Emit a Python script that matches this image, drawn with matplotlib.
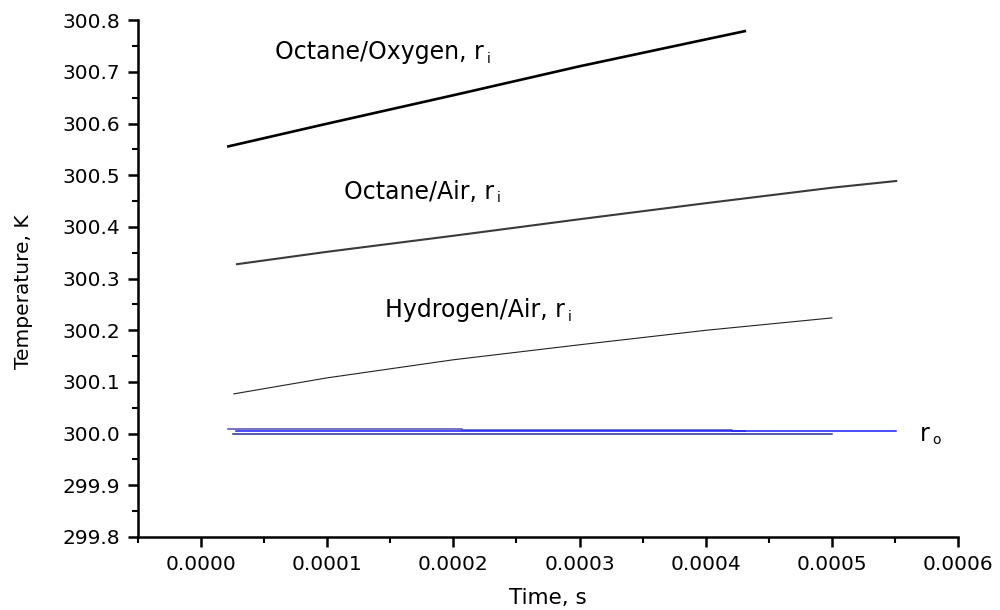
import matplotlib
matplotlib.use('Agg')
import matplotlib.pyplot as plt
from matplotlib.ticker import MultipleLocator, FormatStrFormatter

plt.rcParams['font.family'] = ['DejaVu Sans']

# inner radius temperature, K
t_oct_oxy = [0.0000216, 0.0001, 0.0002, 0.0003, 0.0004, 0.000431]
T_oct_oxy = [300.556, 300.600, 300.655, 300.711, 300.763, 300.779]

t_oct_air = [0.0000285, 0.0001, 0.0002, 0.0003, 0.0004, 0.0005, 0.000551]
T_oct_air = [300.328, 300.352, 300.383, 300.415, 300.446, 300.476, 300.489]

t_h2_air = [0.000026, 0.0001, 0.0002, 0.0003, 0.0004, 0.0005]
T_h2_air = [300.077, 300.108, 300.143, 300.172, 300.200, 300.224]

# outer radius temperature, K
t_oct_oxy_o = [0.0000216, 0.000207, 0.000207, 0.000421, 0.000421, 0.000431]
T_oct_oxy_o = [300.009, 300.009, 300.007, 300.007, 300.005, 300.005]

t_oct_air_o = [0.000028, 0.000551]
T_oct_air_o = [300.0055, 300.0055]

t_h2_air_o = [0.0000257, 0.0005]
T_h2_air_o = [299.9986, 299.9986]

fig = plt.figure(figsize=(10, 6.1), dpi=100)
ax = fig.add_axes([0.138, 0.1197, 0.82, 0.847])

ax.plot(t_oct_oxy, T_oct_oxy, color='black', lw=1.9)
ax.plot(t_oct_air, T_oct_air, color='#3a3a3a', lw=1.5)
ax.plot(t_h2_air, T_h2_air, color='#222222', lw=0.8)

ax.plot(t_oct_oxy_o, T_oct_oxy_o, color='#5a5ab8', lw=1.2)
ax.plot(t_oct_air_o, T_oct_air_o, color='#1a1aff', lw=1.1)
ax.plot(t_h2_air_o, T_h2_air_o, color='#2a2a9a', lw=1.1)


def label(x, y, text, sub):
    # main text plus a small subscript hung off its lower right corner
    t = ax.text(x, y, text, fontsize=17, va='baseline')
    ax.annotate(sub, xy=(1, 0), xycoords=t, xytext=(2, -1),
                textcoords='offset points', fontsize=10, va='bottom')


label(0.0000585, 300.7246, 'Octane/Oxygen, r', 'i')
label(0.000113, 300.455, 'Octane/Air, r', 'i')
label(0.000146, 300.2255, 'Hydrogen/Air, r', 'i')
label(0.000570, 299.986, 'r', 'o')

ax.set_xlim(-0.00005, 0.0006)
ax.set_ylim(299.8, 300.8)
ax.xaxis.set_major_locator(MultipleLocator(0.0001))
ax.xaxis.set_minor_locator(MultipleLocator(0.00005))
ax.yaxis.set_major_locator(MultipleLocator(0.1))
ax.yaxis.set_minor_locator(MultipleLocator(0.05))
ax.xaxis.set_major_formatter(FormatStrFormatter('%.4f'))
ax.yaxis.set_major_formatter(FormatStrFormatter('%.1f'))

ax.spines['top'].set_visible(False)
ax.spines['right'].set_visible(False)
for s in ('left', 'bottom'):
    ax.spines[s].set_linewidth(1.8)

ax.tick_params(which='major', direction='out', length=7, width=1.8, labelsize=14.5, pad=6)
ax.tick_params(which='minor', direction='out', length=4, width=1.5)

ax.set_xlabel('Time, s', fontsize=15.5, labelpad=10)
ax.set_ylabel('Temperature, K', fontsize=14.5)
ax.yaxis.set_label_coords(-0.128, 0.474)

fig.savefig('out.png', dpi=100)
